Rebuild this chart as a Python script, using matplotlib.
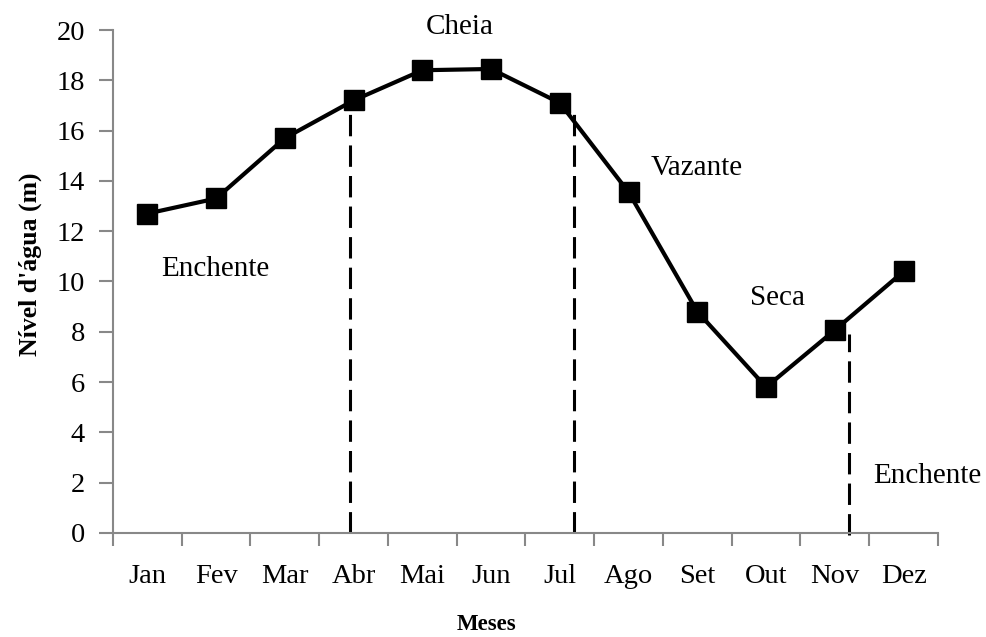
import numpy as np
import matplotlib.pyplot as plt

# dados: nível d'água médio mensal
meses = ['Jan', 'Fev', 'Mar', 'Abr', 'Mai', 'Jun', 'Jul', 'Ago', 'Set', 'Out', 'Nov', 'Dez']
nivel = [12.7, 13.3, 15.7, 17.2, 18.4, 18.45, 17.1, 13.55, 8.8, 5.8, 8.07, 10.4]

# limites entre as fases (posição no eixo dos meses, altura da linha)
limites_x = [2.95, 6.2, 10.2]
limites_topo = [17.2, 16.8, 7.9]
limites_base = [0.0, 0.0, -0.1]

# rótulos das fases
fases = ['Enchente', 'Cheia', 'Vazante', 'Seca', 'Enchente']
fases_x = [0.99, 4.54, 7.99, 9.17, 11.35]
fases_y = [10.5, 20.1, 14.5, 9.35, 2.27]

plt.rcParams['font.family'] = ['Liberation Serif', 'DejaVu Serif']

fig = plt.figure(figsize=(9.86, 6.37), dpi=100)
ax = fig.add_axes([0.1146, 0.1633, 0.8367, 0.7896])

x = np.arange(len(meses))
ax.plot(x, nivel, color='black', lw=3, marker='s', ms=14, zorder=3)

for xi, y0, y1 in zip(limites_x, limites_base, limites_topo):
    ax.plot([xi, xi], [y0, y1], color='black', lw=2.2, ls=(0, (7, 3)), clip_on=False, zorder=2)

for txt, tx, ty in zip(fases, fases_x, fases_y):
    ax.text(tx, ty, txt, ha='center', va='center', fontsize=21, clip_on=False)

ax.set_xlim(-0.5, 11.5)
ax.set_ylim(0, 20)
ax.set_yticks(np.arange(0, 21, 2))

# ticks maiores nos limites dos meses, rótulos no centro
ax.set_xticks(np.arange(-0.5, 12, 1))
ax.set_xticklabels([])
ax.set_xticks(x, minor=True)
ax.set_xticklabels(meses, minor=True)
ax.tick_params(axis='x', which='major', direction='out', length=9, width=1.5, color='#888888')
ax.tick_params(axis='x', which='minor', length=0, pad=22, labelsize=20.5)
ax.tick_params(axis='y', direction='out', length=10, width=1.5, color='#888888', pad=10, labelsize=20.5)

for s in ['top', 'right']:
    ax.spines[s].set_visible(False)
for s in ['left', 'bottom']:
    ax.spines[s].set_color('#888888')
    ax.spines[s].set_linewidth(1.5)

fig.text(0.031, 0.585, "Nível d'água (m)", rotation=90, ha='center', va='center',
         fontsize=18.5, fontweight='bold')
fig.text(0.493, 0.019, 'Meses', ha='center', va='center', fontsize=16.5, fontweight='bold')

fig.savefig('out.png', dpi=100)
